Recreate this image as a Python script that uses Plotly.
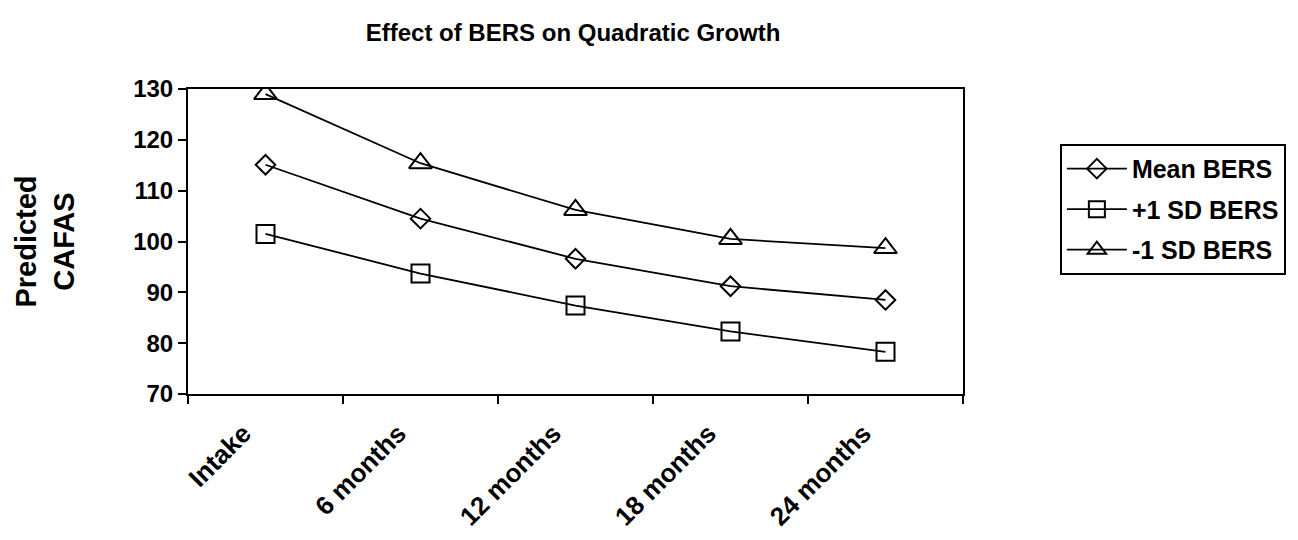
import plotly.graph_objects as go

# Time points and predicted CAFAS scores for each BERS level
time_points = ["Intake", "6 months", "12 months", "18 months", "24 months"]
mean_bers = [115.1, 104.5, 96.6, 91.2, 88.5]
plus_1sd_bers = [101.5, 93.7, 87.4, 82.3, 78.3]
minus_1sd_bers = [129.0, 115.4, 106.2, 100.5, 98.7]

FONT = "Liberation Sans, Arial, sans-serif"

series = [
    ("Mean BERS", mean_bers, "diamond-open", 15),
    ("+1 SD BERS", plus_1sd_bers, "square-open", 18),
    ("-1 SD BERS", minus_1sd_bers, "triangle-up-open", 20),
]

fig = go.Figure()
for name, values, symbol, size in series:
    fig.add_trace(go.Scatter(
        x=time_points,
        y=values,
        name=name,
        legendgroup=name,
        mode="lines+markers",
        line=dict(color="black", width=1.8),
        marker=dict(symbol=symbol, size=size, color="black",
                    line=dict(color="black", width=2)),
    ))

fig.update_layout(
    width=1298,
    height=540,
    paper_bgcolor="white",
    plot_bgcolor="white",
    margin=dict(l=188, r=335, t=89, b=146),
    font=dict(family=FONT, color="black"),
    title=dict(
        text="Effect of BERS on Quadratic Growth",
        font=dict(family=FONT, size=24, color="black", weight="bold"),
        x=0.4415, xanchor="center",
        y=0.94, yanchor="middle",
    ),
    legend=dict(
        x=1.125, xanchor="left",
        y=0.82, yanchor="top",
        bgcolor="white",
        bordercolor="black",
        borderwidth=2,
        itemwidth=60,
        traceorder="grouped",
        tracegroupgap=5,
        font=dict(family=FONT, size=25, color="black", weight="bold"),
    ),
    showlegend=True,
)

fig.update_xaxes(
    type="category",
    range=[-0.5, 4.5],
    automargin=False,
    tickson="boundaries",
    ticks="outside",
    ticklen=8,
    tickwidth=2,
    tickcolor="black",
    tickangle=-45,
    ticklabelstandoff=12,
    ticklabelshift=-22,
    tickfont=dict(family=FONT, size=26, color="black", weight="bold"),
    showline=True,
    linecolor="black",
    linewidth=2,
    mirror=True,
    showgrid=False,
    zeroline=False,
)

fig.update_yaxes(
    range=[70, 130],
    dtick=10,
    automargin=False,
    ticks="outside",
    ticklen=8,
    tickwidth=2,
    tickcolor="black",
    tickfont=dict(family=FONT, size=24, color="black", weight="bold"),
    showline=True,
    linecolor="black",
    linewidth=2,
    mirror=True,
    showgrid=False,
    zeroline=False,
    title=dict(
        text="Predicted<br>CAFAS",
        font=dict(family=FONT, size=29, color="black", weight="bold"),
        standoff=50,
    ),
)

fig.write_html("out.html")
